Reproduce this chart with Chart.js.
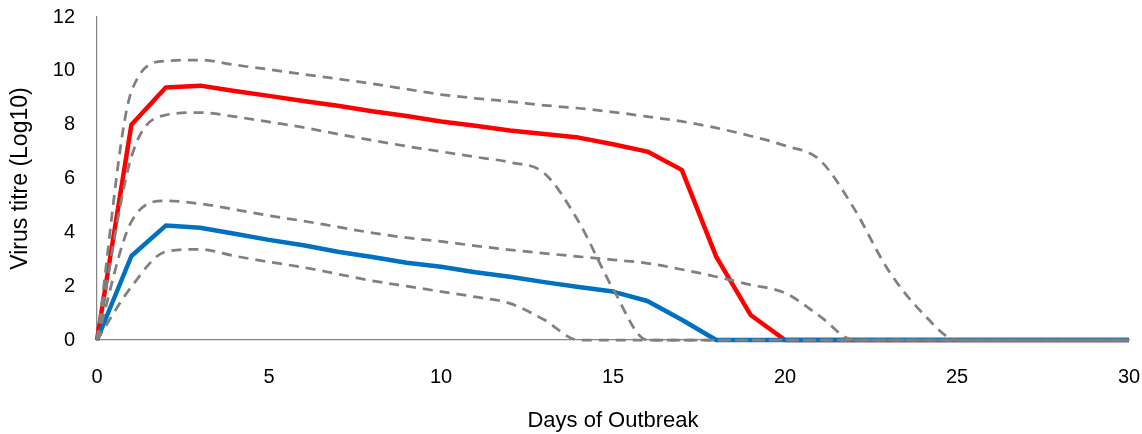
<!DOCTYPE html>
<html>
<head>
<meta charset="utf-8">
<title>Virus titre over days of outbreak</title>
<script src="https://cdn.jsdelivr.net/npm/chart.js@4/dist/chart.umd.min.js"></script>
<style>
  html, body { margin: 0; padding: 0; background: #ffffff; }
  #wrap { position: relative; width: 1142px; height: 434px; }
</style>
</head>
<body>
<div id="wrap"><canvas id="chart"></canvas></div>
<script>
// Days since the start of the outbreak
const days = [0,1,2,3,4,5,6,7,8,9,10,11,12,13,14,15,16,17,18,19,20,21,22,23,24,25,26,27,28,29,30];

// Mean titres (log10)
const highTitre = [0, 8.0, 9.38, 9.45, 9.25, 9.07, 8.88, 8.7, 8.5, 8.32, 8.12, 7.96, 7.78, 7.65, 7.52, 7.27, 7.0, 6.32, 3.1, 0.93, 0, 0, 0, 0, 0, 0, 0, 0, 0, 0, 0];
const lowTitre  = [0, 3.12, 4.25, 4.17, 3.95, 3.72, 3.52, 3.28, 3.08, 2.87, 2.72, 2.52, 2.35, 2.15, 1.97, 1.8, 1.45, 0.75, 0, 0, 0, 0, 0, 0, 0, 0, 0, 0, 0, 0, 0];

// Upper and lower bounds around each mean
const highUpper = [0, 9.23, 10.37, 10.4, 10.22, 10.05, 9.87, 9.7, 9.52, 9.32, 9.12, 8.98, 8.86, 8.72, 8.61, 8.47, 8.3, 8.12, 7.88, 7.58, 7.22, 6.7, 4.9, 2.6, 1.0, 0, 0, 0, 0, 0, 0];
const highLower = [0, 6.8, 8.36, 8.45, 8.3, 8.1, 7.9, 7.65, 7.42, 7.2, 7.0, 6.8, 6.6, 6.2, 4.4, 1.9, 0, 0, 0, 0, 0, 0, 0, 0, 0, 0, 0, 0, 0, 0, 0];
const lowUpper  = [0, 4.4, 5.17, 5.06, 4.85, 4.62, 4.42, 4.2, 3.98, 3.8, 3.66, 3.5, 3.35, 3.22, 3.1, 2.98, 2.85, 2.62, 2.35, 2.05, 1.75, 0.9, 0, 0, 0, 0, 0, 0, 0, 0, 0];
const lowLower  = [0, 1.98, 3.28, 3.37, 3.12, 2.9, 2.7, 2.45, 2.2, 2.0, 1.8, 1.6, 1.36, 0.75, 0, 0, 0, 0, 0, 0, 0, 0, 0, 0, 0, 0, 0, 0, 0, 0, 0];

// Axis ticks
const xTicks = [0, 5, 10, 15, 20, 25, 30];
const yTicks = [0, 2, 4, 6, 8, 10, 12];

const FONT = "'Liberation Sans', Arial, sans-serif";
const toPoints = vals => vals.map((v, i) => ({ x: days[i], y: v }));

function boundLine(vals) {
  return {
    data: toPoints(vals),
    borderColor: '#808080',
    borderWidth: 2.75,
    borderDash: [10, 7],
    borderCapStyle: 'butt',
    cubicInterpolationMode: 'monotone',
    pointRadius: 0,
    fill: false,
    clip: false,
    order: 0
  };
}

new Chart(document.getElementById('chart'), {
  type: 'line',
  data: {
    datasets: [
      boundLine(highUpper),
      boundLine(highLower),
      boundLine(lowUpper),
      boundLine(lowLower),
      {
        data: toPoints(lowTitre),
        borderColor: '#0070C0',
        borderWidth: 4.5,
        borderJoinStyle: 'round',
        tension: 0,
        pointRadius: 0,
        fill: false,
        clip: false,
        order: 1
      },
      {
        data: toPoints(highTitre),
        borderColor: '#FF0000',
        borderWidth: 4.5,
        borderJoinStyle: 'round',
        tension: 0,
        pointRadius: 0,
        fill: false,
        clip: false,
        order: 2
      }
    ]
  },
  options: {
    responsive: true,
    maintainAspectRatio: false,
    animation: false,
    layout: { padding: { left: 0, right: 13, top: 17, bottom: 0 } },
    plugins: { legend: { display: false }, tooltip: { enabled: false } },
    scales: {
      x: {
        type: 'linear',
        min: xTicks[0],
        max: xTicks[xTicks.length - 1],
        afterBuildTicks: s => { s.ticks = xTicks.map(v => ({ value: v })); },
        afterFit: s => { s.height = 94; s.paddingLeft = 0; s.paddingRight = 0; },
        grid: { display: false, drawTicks: false },
        border: { display: true, color: '#868686', width: 1.25 },
        ticks: { color: '#000000', padding: 25, maxRotation: 0, font: { family: FONT, size: 20 } },
        title: {
          display: true,
          text: 'Days of Outbreak',
          color: '#000000',
          font: { family: FONT, size: 22 },
          padding: { top: 0, bottom: 0 }
        }
      },
      y: {
        min: yTicks[0],
        max: yTicks[yTicks.length - 1],
        afterBuildTicks: s => { s.ticks = yTicks.map(v => ({ value: v })); },
        afterFit: s => { s.width = 97; s.paddingTop = 0; s.paddingBottom = 0; },
        grid: { display: false, drawTicks: false },
        border: { display: true, color: '#868686', width: 1.25 },
        ticks: { color: '#000000', padding: 22, font: { family: FONT, size: 20 } },
        title: {
          display: true,
          text: 'Virus titre (Log10)',
          color: '#000000',
          font: { family: FONT, size: 23 },
          padding: { top: 7, bottom: 0 }
        }
      }
    }
  }
});
</script>
</body>
</html>
